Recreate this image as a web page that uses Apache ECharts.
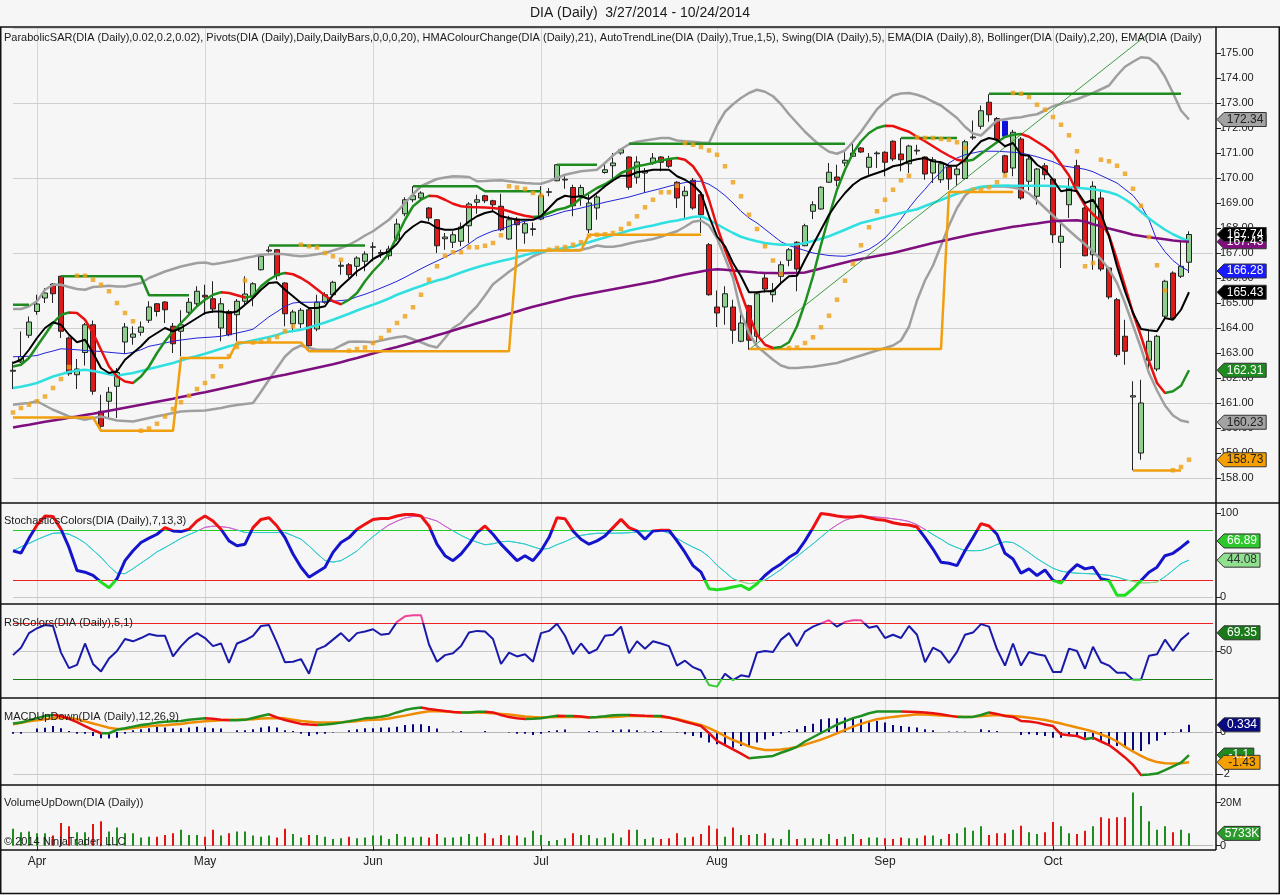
<!DOCTYPE html>
<html>
<head>
<meta charset="utf-8">
<script src="https://cdn.jsdelivr.net/npm/echarts/dist/echarts.min.js"></script>
<style>
html,body{margin:0;padding:0;background:#f6f6f6}
#c{width:1280px;height:895px}
</style>
</head>
<body>
<div id="c"></div>
<script>
// DIA daily bars 3/27/2014 - 10/24/2014, [open, close, low, high]
var candles = [
[162.27,162.31,161.56,162.66],[162.64,162.86,162.6,163.86],[163.71,164.24,163.6,164.46],[164.66,164.96,164.53,165.33],[165.2,165.4,165.0,165.6],
[165.76,165.37,165.0,165.8],[166.07,163.87,163.6,166.09],[163.6,162.17,162.09,163.66],[162.13,162.36,161.56,162.76],[163.02,164.13,162.5,164.2],
[164.13,161.47,161.33,164.3],[160.67,160.07,160.0,161.33],[161.07,161.43,160.4,161.64],[161.67,162.22,160.4,162.4],[163.44,164.04,162.97,164.2],
[163.63,163.76,163.33,164.07],[163.83,164.04,163.69,164.26],[164.31,164.84,164.2,165.07],[164.97,164.66,164.46,165.0],[165.04,164.73,164.2,165.07],
[164.07,163.37,163.0,164.2],[163.87,164.13,162.87,164.71],[164.63,165.03,164.53,165.2],[164.97,165.47,164.87,165.67],[165.31,165.24,164.53,165.73],
[165.17,164.76,164.6,165.87],[164.0,164.97,163.47,165.2],[164.66,163.73,163.67,164.73],[164.53,165.07,163.47,165.16],[165.07,165.36,164.87,166.07],
[165.27,165.77,164.87,165.83],[166.33,166.87,166.3,166.93],[167.08,167.12,167.02,167.27],[167.13,166.09,165.93,167.16],[165.8,164.57,164.07,165.83],
[164.17,164.64,163.83,164.73],[164.17,164.71,164.0,164.8],[164.73,163.29,163.06,164.8],[163.96,165.03,163.87,165.33],[165.03,165.33,164.97,165.43],
[165.33,165.83,165.27,165.89],[166.47,166.51,166.13,166.67],[166.53,166.13,166.0,166.6],[166.47,166.8,166.07,166.87],[166.67,166.96,166.27,167.07],
[167.23,167.25,166.67,167.43],[166.97,167.02,166.8,167.13],[166.89,167.16,166.73,167.29],[167.56,168.16,167.47,168.37],[168.57,169.13,168.47,169.23],
[169.13,169.29,169.03,169.67],[169.2,169.4,169.13,169.47],[168.8,168.4,168.27,168.84],[168.33,167.29,167.0,168.36],[167.57,167.64,167.13,167.8],
[167.43,167.73,167.2,167.87],[167.47,168.04,167.27,168.22],[168.09,168.96,167.4,169.03],[169.03,169.13,168.57,169.33],[169.29,169.09,169.0,169.33],
[169.09,168.93,168.67,169.13],[168.87,167.93,167.87,169.37],[167.56,168.33,167.53,168.49],[168.36,168.13,167.13,168.44],[167.8,168.17,167.37,168.27],
[167.94,167.97,167.69,168.22],[168.36,169.29,168.31,169.67],[169.43,169.45,169.27,169.6],[169.89,170.53,169.87,170.56],[169.92,169.95,169.57,170.07],
[169.62,168.89,168.47,169.73],[169.29,169.62,168.89,169.73],[167.93,169.0,167.8,169.4],[168.8,169.24,168.33,169.33],[170.22,170.33,170.17,170.63],
[170.49,170.6,169.87,171.0],[171.0,171.13,170.93,171.2],[170.84,169.63,169.53,170.87],[170.03,170.64,169.77,170.87],[170.2,170.27,169.4,170.4],
[170.6,170.8,170.53,171.0],[170.84,170.63,170.27,170.87],[170.73,170.47,170.4,170.89],[169.83,169.2,168.8,169.87],[169.29,169.47,168.4,169.67],
[169.91,168.8,168.73,170.0],[169.33,168.53,167.8,169.47],[167.33,165.33,165.29,167.4],[164.84,164.6,164.04,165.5],[164.84,165.37,164.13,165.67],
[164.84,163.91,163.37,165.13],[163.47,164.2,163.43,164.6],[164.89,163.51,163.13,164.93],[163.67,165.37,163.43,165.42],[166.0,165.56,165.42,166.2],
[165.33,165.51,165.03,165.8],[166.07,166.53,165.8,166.67],[166.71,167.13,166.47,167.2],[167.43,166.36,165.47,167.47],[167.29,168.09,167.27,168.17],
[168.67,168.93,168.36,169.07],[168.76,169.63,168.73,169.67],[169.83,170.23,169.8,170.6],[170.04,169.91,169.67,170.53],[170.6,170.71,170.47,171.03],
[170.87,171.0,170.84,171.4],[171.2,171.04,171.0,171.24],[170.43,170.83,170.13,171.0],[170.97,171.0,170.4,171.07],[171.03,170.63,170.07,171.07],
[171.47,170.76,170.67,171.51],[170.96,170.73,170.27,171.6],[170.57,171.28,170.2,171.33],[171.08,171.11,170.93,171.33],[170.84,170.16,169.93,170.87],
[170.2,170.73,169.8,170.84],[169.93,170.57,169.8,170.67],[170.44,169.96,169.53,170.49],[170.13,170.36,169.67,170.53],[169.98,171.45,169.93,171.53],
[171.61,171.64,171.53,172.3],[172.07,172.69,171.95,172.9],[173.03,172.53,172.25,173.35],[172.38,171.52,171.42,172.44],[170.89,170.23,170.15,170.93],
[170.4,171.83,170.07,171.93],[171.56,169.2,169.13,171.64],[169.87,170.76,169.5,170.9],[169.27,170.36,168.93,170.4],[170.49,170.13,169.93,170.6],
[169.96,167.73,167.4,170.0],[167.43,167.67,166.4,168.33],[168.93,169.6,168.4,170.0],[170.49,169.6,169.53,170.73],[168.8,166.89,166.87,168.87],
[166.93,169.67,166.33,169.87],[169.2,166.36,166.27,169.51],[166.4,165.24,165.15,166.45],[165.13,162.93,162.84,165.2],[163.67,163.07,162.53,164.33],
[161.24,161.29,158.31,161.87],[159.0,161.0,158.73,161.93],[162.71,163.47,162.23,163.93],[162.36,163.67,162.27,163.73],[164.47,165.87,164.33,165.93],
[166.2,164.4,164.33,166.27],[166.07,166.47,166.0,167.53],[166.63,167.74,166.2,167.87]
];
// blue painted bar (index, low, high)
var blueBar = [124, 171.67, 172.27];

var monthStarts = [3, 24, 45, 66, 88, 109, 130];
var monthNames = ['Apr', 'May', 'Jun', 'Jul', 'Aug', 'Sep', 'Oct'];
var priceTicks = [158,159,160,161,162,163,164,165,166,167,168,169,170,171,172,173,174,175];
var priceGrid = [158,161,164,167,170,173,176];

var sar = [
160.62,160.8,160.93,161.07,161.26,161.6,161.96,162.44,
166.09,166.09,165.93,165.73,165.47,165.0,164.6,164.27,
159.89,159.98,160.17,160.46,160.76,161.03,161.29,161.56,161.8,162.07,162.47,162.87,163.24,165.9,163.42,163.45,163.53,163.64,163.87,164.07,
167.33,167.27,167.22,167.0,166.87,166.73,
163.09,163.16,163.22,163.4,163.6,163.9,164.2,164.47,164.83,165.33,165.93,166.47,166.89,167.03,167.03,167.23,167.23,167.29,167.4,167.71,
169.67,169.62,169.56,169.4,169.3,
167.13,167.2,167.24,167.33,167.43,167.69,167.73,167.75,167.8,167.96,168.17,168.47,168.83,169.13,169.43,169.43,169.69,
171.4,171.33,171.24,171.1,170.93,170.47,169.83,169.27,168.53,167.96,167.27,166.7,166.17,
163.2,163.22,163.4,163.63,164.03,164.49,165.13,165.89,166.57,167.31,168.03,168.67,169.13,169.53,169.91,170.09,
171.62,171.6,171.6,171.56,171.53,171.43,171.2,
169.53,169.53,169.63,169.83,170.1,
173.4,173.37,173.24,172.93,172.73,172.44,172.13,171.71,171.07,
166.47,166.6,
170.73,170.67,170.49,170.17,169.57,168.89,167.64,166.51,165.5,
158.31,158.44,158.73
];

// swing lines: [firstBar, lastBar, level]
var swingHighSeg = [[0,2,164.93],[6,16,166.07],[17,22,165.31],[32,44,167.3],[50,58,169.67],[59,66,169.47],[68,73,170.53],[77,104,171.37],[111,118,171.6],[122,146,173.37]];
var swingLowSeg = [[0,10,160.42],[11,20,159.89],[21,27,162.8],[28,36,163.42],[37,62,163.07],[63,71,167.1],[72,86,167.73],[92,116,163.16],[117,125,169.44],[140,146,158.3]];
var trendPts = [[92,163.13],[142,175.79]];

var hma = [
162.46,162.53,162.8,163.27,163.73,164.2,164.53,164.62,164.6,164.33,
163.8,163.13,162.46,162.06,161.86,161.8,162.06,162.46,163.0,163.47,
163.87,164.2,164.53,164.87,165.13,165.33,165.43,165.4,165.31,165.22,
165.27,165.67,165.93,166.13,166.2,166.15,166.0,165.8,165.55,165.3,
165.07,164.95,165.13,165.4,165.87,166.27,166.6,167.0,167.67,168.33,
168.87,169.13,169.29,169.27,169.13,168.97,168.87,168.84,168.83,168.82,
168.8,168.76,168.67,168.57,168.49,168.44,168.47,168.6,168.73,168.8,
168.93,169.2,169.4,169.6,169.75,169.95,170.2,170.33,170.47,170.53,
170.6,170.7,170.76,170.8,170.73,170.47,170.0,169.13,168.07,167.13,
166.33,165.4,164.53,163.73,163.33,163.2,163.24,163.43,164.07,165.0,
166.07,167.33,168.47,169.53,170.33,171.0,171.47,171.8,172.0,172.09,
172.08,171.96,171.85,171.65,171.47,171.27,171.07,170.89,170.73,170.67,
170.73,170.97,171.2,171.43,171.64,171.73,171.76,171.65,171.45,171.25,
171.0,170.55,170.1,169.45,168.9,168.55,168.25,167.7,166.73,165.67,
164.6,163.67,162.67,161.8,161.4,161.47,161.69,162.31
];
var ema8 = [
162.6,162.73,163.13,163.6,164.0,164.23,164.13,163.73,163.43,163.53,
163.0,162.4,162.2,162.27,162.73,163.0,163.27,163.6,163.8,164.0,
163.87,164.0,164.2,164.4,164.6,164.66,164.66,164.6,164.66,164.93,
165.2,165.53,165.8,165.83,165.53,165.27,165.0,164.8,164.8,164.87,
165.33,165.67,165.96,166.27,166.47,166.76,166.93,167.07,167.37,167.8,
168.06,168.26,168.2,168.0,167.93,167.93,168.0,168.26,168.47,168.6,
168.67,168.47,168.4,168.33,168.33,168.33,168.47,168.8,169.13,169.29,
169.24,169.27,169.16,169.4,169.67,169.9,170.09,170.09,170.23,170.27,
170.33,170.33,170.33,170.07,169.93,169.73,169.4,168.47,167.67,167.27,
166.6,166.07,165.43,165.43,165.47,165.47,165.8,166.07,166.09,166.73,
167.33,167.93,168.53,169.0,169.4,169.73,169.96,170.09,170.2,170.31,
170.47,170.53,170.67,170.75,170.8,170.67,170.63,170.49,170.49,170.73,
171.13,171.47,171.6,171.53,171.27,171.4,170.93,170.89,170.53,170.33,
169.93,169.47,169.53,169.47,169.0,169.13,168.6,167.67,166.47,165.47,
164.6,163.96,163.91,163.87,164.4,164.33,164.73,165.43
];
var bbUpper = [
164.76,164.76,164.87,165.07,165.53,165.73,165.73,165.64,165.56,165.53,
165.64,165.66,165.69,165.66,165.66,165.73,165.8,166.0,166.13,166.26,
166.36,166.46,166.53,166.6,166.62,166.55,166.6,166.66,166.72,166.8,
166.86,166.93,166.95,166.97,166.95,166.9,166.87,166.9,166.95,
167.0,167.1,167.2,167.33,167.5,167.7,167.87,168.1,168.33,168.65,
169.0,169.35,169.67,169.82,169.96,170.02,170.07,170.06,170.04,169.87,
169.88,169.9,169.91,169.87,169.83,169.8,169.78,169.77,169.87,170.0,
170.13,170.2,170.27,170.3,170.33,
170.6,170.9,171.15,171.35,171.45,171.5,171.55,171.6,171.6,171.5,
171.47,171.45,171.42,171.4,172.1,172.65,172.95,173.2,173.4,173.53,
173.45,173.27,172.95,172.55,172.2,171.85,171.55,171.27,171.05,170.97,
171.1,171.45,171.85,172.3,172.75,173.05,173.3,173.38,173.4,173.33,
173.22,173.05,172.9,172.65,172.4,172.05,171.78,171.7,172.0,172.3,
172.35,172.4,172.43,172.5,172.55,172.7,172.87,172.97,173.05,173.15,
173.28,173.4,173.55,173.7,174.1,174.45,174.65,174.83,174.8,174.55,
174.05,173.4,172.7,172.34
];
var bbMiddle = [
162.85,162.86,162.87,162.9,163.0,163.08,163.17,163.15,163.13,163.1,
163.08,163.06,163.03,163.0,162.97,163.03,163.13,163.27,163.33,163.4,
163.47,163.52,163.56,163.6,163.62,163.64,163.67,163.73,163.8,163.87,
163.95,164.2,164.45,164.65,164.87,165.0,165.03,165.03,165.04,165.05,
165.07,165.1,165.13,165.25,165.35,165.47,165.6,165.73,165.87,166.03,
166.2,166.37,166.53,166.68,166.83,167.0,167.15,167.37,167.6,167.75,
167.88,167.95,168.07,168.2,168.27,168.33,168.4,168.47,168.57,168.67,
168.73,168.8,168.88,168.95,169.03,169.1,169.17,169.24,169.33,169.42,
169.5,169.58,169.67,169.75,169.82,169.87,169.87,169.75,169.55,169.3,
169.0,168.67,168.4,168.2,167.95,167.7,167.45,167.3,167.2,167.1,
167.0,166.95,166.9,166.88,166.87,166.93,167.03,167.15,167.35,167.6,
167.95,168.35,168.8,169.2,169.55,169.93,170.25,170.6,170.8,170.93,
171.0,171.07,171.07,171.07,171.05,171.03,171.0,170.93,170.85,170.75,
170.65,170.5,170.45,170.4,170.35,170.25,170.1,169.95,169.8,169.55,
169.3,168.9,168.33,167.5,167.05,166.7,166.45,166.28
];
var bbLower = [
160.93,160.97,161.0,161.07,160.9,160.73,160.6,160.46,160.4,160.33,
160.4,160.46,160.38,160.3,160.28,160.26,160.33,160.4,160.47,160.53,
160.6,160.66,160.68,160.69,160.7,160.75,160.8,160.87,160.92,160.96,
161.0,161.45,161.93,162.4,162.86,163.15,163.3,163.2,163.13,163.13,
163.13,163.3,163.45,163.46,163.45,163.43,163.5,163.57,163.63,163.67,
163.55,163.43,163.3,163.22,163.6,164.0,164.2,164.55,164.87,165.3,
165.75,166.0,166.25,166.47,166.67,166.87,167.0,167.13,167.12,167.1,
167.11,167.13,167.2,167.3,167.25,167.25,167.3,167.38,167.45,167.5,
167.56,167.65,167.77,167.87,168.05,168.25,168.3,168.1,167.6,166.8,
166.0,164.6,163.8,163.27,163.0,162.73,162.5,162.4,162.4,162.43,
162.45,162.5,162.55,162.6,162.7,162.8,162.9,163.0,163.1,163.2,
163.3,163.5,164.05,165.1,165.9,166.5,167.3,168.1,168.8,169.3,
169.55,169.62,169.66,169.67,169.66,169.62,169.55,169.38,169.1,168.8,
168.5,168.2,167.9,167.62,167.35,167.05,166.75,166.35,165.8,165.0,
164.1,163.2,162.2,161.5,160.9,160.5,160.3,160.23
];
var emaCyan = [
161.6,161.65,161.72,161.8,161.93,162.06,162.15,162.24,162.3,162.33,
162.28,162.22,162.15,162.09,162.15,162.2,162.28,162.36,162.44,162.52,
162.6,162.7,162.8,162.88,162.97,163.07,163.17,163.27,163.35,163.43,
163.5,163.57,163.64,163.72,163.83,163.88,163.93,164.02,164.12,164.22,
164.33,164.45,164.57,164.7,164.82,164.93,165.05,165.18,165.33,165.45,
165.57,165.68,165.8,165.9,165.98,166.1,166.22,166.33,166.43,166.52,
166.6,166.68,166.75,166.83,166.92,167.0,167.05,167.1,167.15,167.2,
167.25,167.35,167.43,167.53,167.62,167.72,167.8,167.9,167.97,168.04,
168.1,168.18,168.25,168.3,168.37,168.44,168.47,168.33,168.15,167.97,
167.8,167.65,167.55,167.47,167.4,167.36,167.33,167.33,167.35,167.4,
167.48,167.57,167.67,167.8,167.93,168.07,168.2,168.28,168.36,168.44,
168.52,168.6,168.68,168.75,168.88,169.0,169.12,169.25,169.37,169.47,
169.57,169.65,169.68,169.69,169.7,169.69,169.69,169.69,169.69,169.69,
169.68,169.66,169.64,169.61,169.58,169.55,169.5,169.43,169.33,169.15,
168.93,168.65,168.38,168.15,167.93,167.75,167.6,167.47
];
var emaPurple = [
160.02,160.08,160.13,160.19,160.25,160.3,160.35,160.41,160.46,160.52,
160.57,160.63,160.69,160.75,160.81,160.87,160.93,160.99,161.05,161.11,
161.17,161.24,161.3,161.37,161.43,161.5,161.57,161.64,161.71,161.78,
161.86,161.93,162.0,162.07,162.13,162.2,162.27,162.34,162.41,162.48,
162.55,162.63,162.72,162.8,162.89,162.98,163.07,163.16,163.24,163.33,
163.42,163.52,163.61,163.71,163.8,163.9,164.0,164.09,164.19,164.28,
164.38,164.47,164.57,164.66,164.76,164.85,164.93,165.01,165.09,165.17,
165.25,165.31,165.37,165.43,165.49,165.55,165.61,165.67,165.73,165.79,
165.85,165.92,166.0,166.07,166.14,166.2,166.26,166.32,166.35,166.33,
166.3,166.27,166.25,166.22,166.2,166.2,166.19,166.2,166.2,166.22,
166.3,166.38,166.46,166.54,166.62,166.7,166.76,166.82,166.88,166.94,
167.0,167.08,167.16,167.24,167.32,167.4,167.47,167.54,167.61,167.68,
167.75,167.81,167.87,167.93,167.99,168.05,168.09,168.14,168.18,168.23,
168.27,168.29,168.3,168.31,168.26,168.15,168.07,167.98,167.9,167.82,
167.73,167.68,167.63,167.59,167.55,167.5,167.47,167.45
];

var stochK = [
55.3,52.5,70,85.9,96.5,96,80.8,59.2,31.8,29.8,
25.9,18,11.4,22,43.5,55.3,65,70.2,74.9,82.7,
78.8,78,80.8,90.6,96.5,90.6,80.8,67,61.2,63.1,
82.7,92.5,94.5,84.7,70.9,51.4,35.7,23.9,29.8,35.7,
53.3,65,70.9,80.8,86.7,92.5,93.7,93.7,96.5,98.4,
98.4,96.5,84.7,63.1,49.4,43.5,51.4,63.1,76.9,84.7,
74.9,63.1,53.3,43.5,49.4,43.5,55.3,70.9,94.5,93.3,
78.8,69,63.1,67,72.9,82.7,92.5,82.7,78.8,69,
78.8,79.6,79.6,67,53.3,37.6,29.8,10.2,9,10.2,
12.2,14.1,9,16.1,25.9,33.7,39.6,47.5,53.3,67,
82.7,99.5,98.4,96.5,95.3,95.3,96.5,94.5,92.5,91.4,
88.6,86.7,85.9,83.5,70.9,57.3,41.6,40.4,37.6,55.3,
70.9,87.5,84.7,74.9,52.2,45.5,28.6,33.7,25.9,32.5,
20,16.9,29.8,38.8,33.7,35.7,22,20,2.4,2.4,
10.2,20,29.8,35.7,49.4,52.2,59.2,66.89
];
var stochD = [
55.3,60,64,68.5,72.5,76,76.5,74.9,70.5,64.5,
56,47.5,37,28.5,28,34,40.5,47,54,59,
64.5,70,74.5,78.5,83,84.5,84,82.7,80,77,
76.9,76.9,76.9,76.9,76.9,73,69,61,52,43.5,
41.8,43.5,49,55,64,72,79.5,86,90.5,94.3,
96,96,93.5,90.6,84.5,79,73.5,69,65.5,62.4,
63.5,66,66.5,65,63.2,60,57,58,62.5,66,
70.5,73.5,75,76,76.1,76.1,76.3,76.7,77.5,78.3,
79,79.5,76,70,64.5,59.5,55.3,48,38,30,
22,18.5,16.1,17.5,20.5,26.5,33,41,48.5,56,
63.5,71.5,79.5,86,91.5,94.5,96.5,96,95.2,94.5,
93.2,92,90,86.3,80.5,74.5,69,63,59,55.5,
55.3,55.5,58.5,62.7,66,65,59.5,53,46,40,
34.5,31,29.5,28.6,28.2,27.8,27,26,24,21,
18.8,17,17.3,18,24.5,32,40,44.08
];
var rsi = [
45.6,53.5,69.0,74.2,77.6,76.6,48.3,31.8,35.2,58.0,
36.2,28.3,42.1,50,62.8,60.3,63.8,68.0,66.2,66.2,
44.2,55.2,63.8,69.0,63.8,55.2,58.0,37.3,58.0,61.4,
66.2,76.6,77.6,58.7,38.0,38.6,41.4,25.9,51.8,55.2,
62.1,69.0,60.3,69.0,70.7,73.1,67.3,68.3,81.0,86.9,
88.0,88.0,56.9,38.6,45.6,47.6,55.2,69.6,71.4,70.7,
62.8,36.2,48.3,44.2,46.6,38.6,69.0,71.4,79,66.2,
46.6,58.0,47.6,51.8,66.2,67.3,75.9,47.6,60.3,
52.5,60.3,58.0,55.2,34.5,39.7,32.8,29.3,13.8,12.1,
25.9,19.0,24.1,22.5,48.3,50,49.0,62.1,69.0,55.2,
70.7,75.9,79.4,82.8,75.9,81.0,82.8,82.8,74.8,76.6,
63.8,67.3,63.8,76.6,67.3,38.0,53.5,49.0,37.3,49.0,
67.3,69.6,78.6,75.9,51.8,34.5,58.0,34.5,49.0,46.6,
45.0,27.6,27.6,52.5,50,31.1,54.5,38.0,34.5,26.9,
26.9,19.5,19.3,45.0,46.6,62.1,50,62.1,69.35
];
var macd = [
0.40,0.44,0.55,0.65,0.75,0.80,0.75,0.62,0.46,0.28,
0.10,-0.06,-0.06,0.10,0.17,0.25,0.33,0.38,0.44,0.48,
0.50,0.52,0.57,0.61,0.65,0.62,0.58,0.55,0.55,0.57,
0.66,0.75,0.83,0.68,0.56,0.47,0.38,0.35,0.33,0.35,
0.39,0.44,0.50,0.57,0.64,0.67,0.72,0.79,0.92,1.03,
1.11,1.15,1.08,1.03,0.99,0.94,0.92,0.92,0.95,0.95,
0.92,0.80,0.70,0.65,0.61,0.62,0.65,0.71,0.76,0.75,
0.75,0.73,0.68,0.70,0.74,0.79,0.80,0.80,0.78,0.76,
0.75,0.75,0.68,0.58,0.48,0.38,0.28,-0.05,-0.42,-0.62,
-0.82,-1.02,-1.24,-1.20,-1.17,-1.13,-0.98,-0.85,-0.70,-0.45,
-0.25,-0.05,0.15,0.35,0.50,0.65,0.75,0.88,0.96,0.96,
0.96,0.96,0.95,0.94,0.92,0.88,0.83,0.77,0.71,0.71,
0.71,0.80,0.92,0.85,0.75,0.71,0.52,0.49,0.44,0.35,
0.28,-0.11,-0.15,-0.19,-0.34,-0.27,-0.45,-0.62,-0.90,-1.20,
-1.55,-2.03,-2.00,-1.96,-1.80,-1.62,-1.45,-1.09
];
var macdAvg = [
0.36,0.43,0.5,0.55,0.6,0.65,0.66,0.66,0.6,0.5,
0.4,0.3,0.2,0.14,0.14,0.18,0.23,0.27,0.3,0.32,
0.35,0.38,0.43,0.47,0.5,0.53,0.55,0.57,0.58,0.59,
0.6,0.63,0.65,0.66,0.64,0.58,0.52,0.48,0.44,0.44,
0.44,0.46,0.48,0.51,0.55,0.57,0.59,0.63,0.7,0.77,
0.85,0.92,0.98,0.98,0.96,0.94,0.92,0.92,0.92,0.9,
0.88,0.85,0.82,0.78,0.73,0.7,0.68,0.69,0.7,0.71,
0.71,0.7,0.69,0.69,0.7,0.71,0.73,0.75,0.75,0.74,
0.73,0.71,0.67,0.62,0.52,0.42,0.33,0.18,0.0,-0.2,
-0.38,-0.52,-0.68,-0.78,-0.85,-0.85,-0.83,-0.78,-0.7,-0.6,
-0.48,-0.36,-0.22,-0.07,0.1,0.25,0.38,0.5,0.6,0.66,
0.71,0.75,0.79,0.83,0.82,0.8,0.78,0.75,0.73,0.71,
0.72,0.75,0.78,0.8,0.78,0.75,0.72,0.67,0.62,0.56,
0.48,0.4,0.3,0.21,0.12,0.02,-0.12,-0.25,-0.45,-0.7,
-0.92,-1.13,-1.3,-1.42,-1.47,-1.49,-1.47,-1.43
];
var macdDiff = [
-0.08,-0.08,0,0.16,0.2,0.28,0.17,0.05,-0.08,-0.08,
-0.19,-0.3,-0.31,-0.27,-0.08,0.08,0.13,0.17,0.24,0.21,
0.16,0.17,0.21,0.24,0.21,0.17,0.16,0,0.08,0.08,
0.13,0.21,0.27,0.21,0.08,0.05,-0.08,-0.19,-0.11,-0.08,
-0.03,0,0.08,0.13,0.17,0.17,0.21,0.21,0.24,0.33,
0.36,0.36,0.28,0.16,0,0.02,0.05,0,0,0.05,
0,0,-0.03,-0.08,-0.08,-0.14,-0.08,0.05,0.08,0.11,
0,0,0.05,0.05,0,0.08,0.11,0.11,0.08,0.02,
0.05,0.05,0,-0.03,-0.11,-0.19,-0.27,-0.5,-0.58,-0.66,
-0.74,-0.66,-0.66,-0.5,-0.35,-0.19,-0.08,0.05,0.13,0.28,
0.39,0.6,0.65,0.65,0.68,0.65,0.6,0.52,0.52,0.44,
0.33,0.28,0.24,0.21,0.13,0.08,0,0.02,0.02,0.02,
0,0.13,0.08,0.05,0,0,-0.14,-0.11,-0.14,-0.19,
-0.27,-0.27,-0.19,-0.23,-0.27,-0.35,-0.46,-0.58,-0.66,-0.74,
-0.86,-0.9,-0.58,-0.42,-0.14,-0.03,0.13,0.334
];
// volume in millions
var volume = [
7.9,6.3,6.6,5.8,5.8,4.7,10.6,9.0,6.3,6.3,
10.1,11.3,6.6,8.5,5.8,5.8,3.8,4.2,4.2,5.0,
5.8,7.4,5.0,5.0,4.2,7.4,4.7,5.8,6.6,6.6,
4.7,4.2,4.7,3.8,7.9,5.4,3.8,5.0,5.0,4.2,
3.1,3.5,4.2,3.5,3.8,4.7,4.7,3.1,5.4,4.2,
3.8,4.2,3.8,5.4,3.8,3.8,4.2,5.4,4.2,5.8,
3.5,5.0,4.7,4.7,3.8,6.9,5.0,2.2,2.7,3.5,
5.8,5.0,5.0,3.5,3.8,5.8,3.8,7.4,7.4,
3.1,3.8,3.1,3.5,5.8,3.8,4.2,5.4,9.4,7.9,
4.2,8.5,5.0,5.0,5.4,5.8,3.5,3.1,7.4,3.1,
3.5,3.5,3.1,5.4,3.1,4.2,5.4,3.1,3.8,3.8,
3.5,3.1,3.8,3.5,3.5,4.7,4.7,3.1,5.4,5.8,
8.5,6.9,9.0,5.0,5.8,5.8,7.4,9.3,6.3,5.4,
6.3,11.0,9.0,5.8,5.4,6.9,9.0,13.2,12.6,13.2,
13.2,24.7,18.4,11.3,7.4,9.0,6.3,7.4,5.73
];

var NCAT = 151;
var cats = [];
for (var i = 0; i < NCAT; i++) cats.push(String(i));
var nBars = candles.length;

function fromSegments(segs) {
  var out = [];
  for (var i = 0; i < nBars; i++) out.push(null);
  segs.forEach(function (s) { for (var k = s[0]; k <= s[1]; k++) out[k] = s[2]; });
  return out;
}
function dirPieces(arr, upC, dnC) {
  var p = [{ lte: 0, color: arr[1] >= arr[0] ? upC : dnC }];
  for (var i = 1; i < arr.length; i++) {
    p.push({ gt: i - 1, lte: i, color: arr[i] >= arr[i - 1] ? upC : dnC });
  }
  p.push({ gt: arr.length - 1, color: upC });
  return p;
}
var blueData = candles.map(function (c, i) {
  return i === blueBar[0] ? [blueBar[1], blueBar[2], blueBar[1], blueBar[2]] : '-';
});
var volData = volume.map(function (v, i) {
  var up = candles[i][1] >= candles[i][0];
  return { value: v, itemStyle: { color: up ? '#1f8c1f' : '#e31414' } };
});
var isMonth = function (idx) { return monthStarts.indexOf(idx) >= 0; };

var FONT = '"Liberation Sans", Arial, sans-serif';
var grids = [
  { left: 13, top: 27, width: 1200, height: 476 },
  { left: 13, top: 503, width: 1200, height: 101 },
  { left: 13, top: 604, width: 1200, height: 94 },
  { left: 13, top: 698, width: 1200, height: 87 },
  { left: 13, top: 785, width: 1200, height: 65 }
];
var xAxes = grids.map(function (g, k) {
  return {
    type: 'category', gridIndex: k, data: cats, boundaryGap: false,
    axisLine: { show: false },
    axisTick: { show: k === 4, interval: isMonth, length: 5, lineStyle: { color: '#222' } },
    axisLabel: {
      show: k === 4, interval: isMonth, margin: 6, color: '#222', fontSize: 12, fontFamily: FONT,
      formatter: function (v, idx) { var m = monthStarts.indexOf(Number(v)); return m >= 0 ? monthNames[m] : ''; }
    },
    splitLine: { show: true, interval: isMonth, lineStyle: { color: '#d6d6d6', width: 1 } }
  };
});
function yAx(k, min, max, ticks, fmt) {
  return {
    type: 'value', gridIndex: k, position: 'right', offset: 3, min: min, max: max,
    axisLine: { show: false }, splitLine: { show: false },
    axisTick: { show: true, customValues: ticks, length: 5, lineStyle: { color: '#222' } },
    axisLabel: { customValues: ticks, margin: 4, color: '#222', fontSize: 11, fontFamily: FONT, formatter: fmt }
  };
}
var yAxes = [
  yAx(0, 157, 176.04, priceTicks, function (v) { return v.toFixed(2); }),
  yAx(1, -8, 112, [0, 100], function (v) { return String(Math.round(v)); }),
  yAx(2, 0, 100, [50], function (v) { return String(Math.round(v)); }),
  yAx(3, -2.5, 1.6, [0, -2], function (v) { return String(Math.round(v)); }),
  yAx(4, -2, 28.2, [0, 20], function (v) { return Math.round(v) === 0 ? '0' : '20M'; })
];
function refLines(list) {
  return {
    silent: true, symbol: ['none', 'none'], z: 1, animation: false,
    label: { show: false },
    data: list.map(function (l) { return { yAxis: l[0], lineStyle: { color: l[1], width: 1, type: 'solid' } }; })
  };
}
// color == null: line colour comes from a visualMap
function ln(name, data, color, width, xi, z) {
  var s = {
    name: name, type: 'line', data: data, xAxisIndex: xi, yAxisIndex: xi,
    showSymbol: false, symbol: 'none', silent: true, z: z || 3,
    lineStyle: { width: width }
  };
  if (color) { s.lineStyle.color = color; s.itemStyle = { color: color }; }
  return s;
}

var series = [];
// 0 candles
series.push({
  type: 'candlestick', data: candles, xAxisIndex: 0, yAxisIndex: 0, barWidth: 5, clip: false, z: 2, silent: true,
  itemStyle: { color: '#8fd08f', color0: '#dc1a1a', borderColor: '#222', borderColor0: '#222', borderWidth: 1 },
  markLine: refLines(priceGrid.map(function (v) { return [v, '#cfcfcf']; }))
});
// 1 blue painted bar
series.push({
  type: 'candlestick', data: blueData, xAxisIndex: 0, yAxisIndex: 0, barWidth: 5, z: 2, silent: true,
  itemStyle: { color: '#1010dd', color0: '#1010dd', borderColor: '#1010dd', borderColor0: '#1010dd' }
});
series.push(ln('bbUpper', bbUpper, '#9f9f9f', 2.5, 0));          // 2
series.push(ln('bbLower', bbLower, '#9f9f9f', 2.5, 0));          // 3
series.push(ln('bbMiddle', bbMiddle, '#2424d8', 1, 0));          // 4
series.push(ln('emaCyan', emaCyan, '#30e0e0', 2.5, 0));          // 5
series.push(ln('emaPurple', emaPurple, '#7f0f7f', 2.5, 0));      // 6
var tr = ln('trend', trendPts, '#3f9a3f', 1, 0); tr.connectNulls = true;
series.push(tr);                                                  // 7
series.push(ln('swingHigh', fromSegments(swingHighSeg), '#1f8a1f', 2.5, 0)); // 8
series.push(ln('swingLow', fromSegments(swingLowSeg), '#f0a00f', 2.5, 0));   // 9
series.push(ln('hma', hma, null, 2.5, 0, 4));                    // 10
series.push(ln('ema8', ema8, '#000000', 2, 0, 4));               // 11
series.push({                                                     // 12
  type: 'scatter', data: sar, xAxisIndex: 0, yAxisIndex: 0, symbol: 'rect', symbolSize: 4.5, z: 5, silent: true,
  itemStyle: { color: '#f0a014' }
});
// stochastics
var sk = ln('stochK', stochK, null, 3, 1, 4);
sk.markLine = refLines([[0, '#c8c8c8'], [20, '#ee2222'], [80, '#22cc22']]);
series.push(sk);                                                  // 13
series.push(ln('stochD', stochD, null, 1, 1));                   // 14
// RSI
var rs = ln('rsi', rsi, null, 2, 2, 4);
rs.markLine = refLines([[50, '#c8c8c8'], [80, '#ee2222'], [20, '#1a7a1a']]);
series.push(rs);                                                  // 15
// MACD
series.push({                                                     // 16
  type: 'bar', data: macdDiff, xAxisIndex: 3, yAxisIndex: 3, barWidth: 2, z: 2, silent: true,
  itemStyle: { color: '#0a0a80' },
  markLine: refLines([[0, '#b8b8b8'], [-2, '#c8c8c8']])
});
series.push(ln('macdAvg', macdAvg, '#f08c00', 2.5, 3, 3));       // 17
series.push(ln('macd', macd, null, 2.5, 3, 4));                  // 18
// volume
series.push({                                                     // 19
  type: 'bar', data: volData, xAxisIndex: 4, yAxisIndex: 4, barWidth: 2, z: 2, silent: true,
  markLine: refLines([[0, '#b8b8b8']])
});

var visualMaps = [
  { type: 'piecewise', show: false, seriesIndex: 10, dimension: 0, pieces: dirPieces(hma, '#1f8f1f', '#e81010') },
  { type: 'piecewise', show: false, seriesIndex: 13, dimension: 1,
    pieces: [{ lt: 20, color: '#22dd22' }, { gte: 20, lte: 80, color: '#1414cc' }, { gt: 80, color: '#ee1111' }] },
  { type: 'piecewise', show: false, seriesIndex: 14, dimension: 1,
    pieces: [{ lt: 20, color: '#8fd88f' }, { gte: 20, lte: 80, color: '#33cccc' }, { gt: 80, color: '#cc66cc' }] },
  { type: 'piecewise', show: false, seriesIndex: 15, dimension: 1,
    pieces: [{ lt: 20, color: '#33cc33' }, { gte: 20, lte: 80, color: '#1a1aaa' }, { gt: 80, color: '#ee4499' }] },
  { type: 'piecewise', show: false, seriesIndex: 18, dimension: 0, pieces: dirPieces(macd, '#1f8f1f', '#e81010') }
];

var chart = echarts.init(document.getElementById('c'));
chart.setOption({
  animation: false,
  backgroundColor: '#f6f6f6',
  grid: grids,
  xAxis: xAxes,
  yAxis: yAxes,
  visualMap: visualMaps,
  series: series
});

// frame, captions, value flags
var g = [];
function hline(y, x1, x2) { g.push({ type: 'line', shape: { x1: x1, y1: y, x2: x2, y2: y }, style: { stroke: '#111', lineWidth: 1.5 }, z: 40, silent: true }); }
function vline(x, y1, y2) { g.push({ type: 'line', shape: { x1: x, y1: y1, x2: x, y2: y2 }, style: { stroke: '#111', lineWidth: 1.5 }, z: 40, silent: true }); }
hline(27, 0, 1280); hline(503, 0, 1280); hline(604, 0, 1280); hline(698, 0, 1280); hline(785, 0, 1280);
hline(850, 0, 1216); hline(893.5, 0, 1280);
vline(1216, 27, 850); vline(0.75, 27, 894); vline(1279.25, 27, 894);
function txt(x, y, s, size, align, w) {
  var st = { text: s, fill: '#1a1a1a', font: size + 'px ' + FONT, textAlign: align || 'left', textVerticalAlign: 'middle' };
  if (w) { st.width = w; st.overflow = 'truncate'; st.ellipsis = ''; }
  g.push({ type: 'text', x: x, y: y, style: st, z: 42, silent: true });
}
txt(640, 13, 'DIA (Daily)  3/27/2014 - 10/24/2014', 14, 'center');
txt(4, 38, 'ParabolicSAR(DIA (Daily),0.02,0.2,0.02), Pivots(DIA (Daily),Daily,DailyBars,0,0,0,20), HMAColourChange(DIA (Daily),21), AutoTrendLine(DIA (Daily),True,1,5), Swing(DIA (Daily),5), EMA(DIA (Daily),8), Bollinger(DIA (Daily),2,20), EMA(DIA (Daily)', 11, 'left', 1210);
txt(4, 521, 'StochasticsColors(DIA (Daily),7,13,3)', 11);
txt(4, 623, 'RSIColors(DIA (Daily),5,1)', 11);
txt(4, 717, 'MACDUpDown(DIA (Daily),12,26,9)', 11);
txt(4, 803, 'VolumeUpDown(DIA (Daily))', 11);
txt(4, 842, '\u00a9 2014 NinjaTrader, LLC', 11);

function flag(axisIdx, val, label, bg, fg) {
  var y = chart.convertToPixel({ yAxisIndex: axisIdx }, val);
  var w = label.length * 6.2 + 5;
  g.push({ type: 'polygon', shape: { points: [[1217, y], [1224, y - 7], [1224 + w, y - 7], [1224 + w, y + 7], [1224, y + 7]] },
    style: { fill: bg, stroke: '#333', lineWidth: 1 }, z: 50, silent: true });
  g.push({ type: 'text', x: 1224 + w / 2, y: y, style: { text: label, fill: fg, font: '12px ' + FONT, textAlign: 'center', textVerticalAlign: 'middle' }, z: 51, silent: true });
}
var last = nBars - 1;
flag(0, bbUpper[last], bbUpper[last].toFixed(2), '#a3a3a3', '#222');
flag(0, emaPurple[last], '167.43', '#7f0f7f', '#fff');
flag(0, candles[last][1], candles[last][1].toFixed(2), '#000', '#fff');
flag(0, bbMiddle[last], bbMiddle[last].toFixed(2), '#1a1aff', '#fff');
flag(0, ema8[last], ema8[last].toFixed(2), '#000', '#fff');
flag(0, hma[last], hma[last].toFixed(2), '#1f8a1f', '#fff');
flag(0, bbLower[last], bbLower[last].toFixed(2), '#a3a3a3', '#222');
flag(0, sar[last], sar[last].toFixed(2), '#f5a000', '#222');
flag(1, stochK[last], stochK[last].toFixed(2), '#2ec82e', '#fff');
flag(1, stochD[last], stochD[last].toFixed(2), '#8fe08f', '#333');
flag(2, rsi[last], rsi[last].toFixed(2), '#1a7a1a', '#fff');
flag(3, macdDiff[last], '0.334', '#0a0a80', '#fff');
flag(3, macd[last], '-1.1', '#1f8a1f', '#fff');
flag(3, macdAvg[last], '-1.43', '#f5a000', '#222');
flag(4, volume[last], '5733K', '#2a9a2a', '#fff');

chart.setOption({ graphic: g });
</script>
</body>
</html>
